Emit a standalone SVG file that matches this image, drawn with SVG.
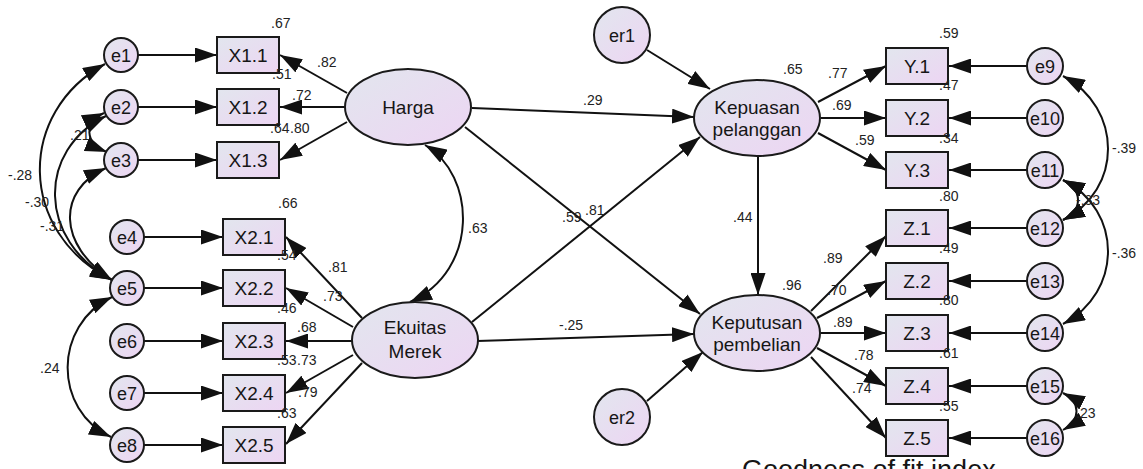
<svg xmlns="http://www.w3.org/2000/svg" width="1143" height="469" viewBox="0 0 1143 469">
<defs>
<linearGradient id="g" x1="0" y1="0" x2="1" y2="1">
<stop offset="0" stop-color="#e2e6ee"/>
<stop offset="1" stop-color="#edd5f3"/>
</linearGradient>
<marker id="a" viewBox="0 0 22 15" refX="22" refY="7.5" markerWidth="22" markerHeight="15" markerUnits="userSpaceOnUse" orient="auto-start-reverse">
<path d="M0,0 L22,7.5 L0,15 z" fill="#111"/>
</marker>
<style>
.n{fill:url(#g);stroke:#1a1a1a;stroke-width:2}
text{font-family:'Liberation Sans',Arial,sans-serif;fill:#161616}
.t{font-size:19px;text-anchor:middle}
.te{font-size:18px;text-anchor:middle}
.l{font-size:14px;fill:#222}
.c path,.c line{stroke:#111;stroke-width:2;fill:none}
.s{marker-end:url(#a)}
.d{marker-start:url(#a);marker-end:url(#a)}
</style>
</defs>
<rect width="1143" height="469" fill="#fff"/>

<g class="c" id="connectors">
<line class="s" x1="138" y1="55" x2="217" y2="55"/>
<line class="s" x1="138" y1="107" x2="217" y2="107"/>
<line class="s" x1="138" y1="160" x2="217" y2="160"/>
<line class="s" x1="144" y1="237" x2="223" y2="237"/>
<line class="s" x1="144" y1="288" x2="223" y2="288"/>
<line class="s" x1="144" y1="341" x2="223" y2="341"/>
<line class="s" x1="144" y1="393" x2="223" y2="393"/>
<line class="s" x1="144" y1="445" x2="223" y2="445"/>
<line class="s" x1="347" y1="93" x2="280" y2="55"/>
<line class="s" x1="345" y1="107" x2="280" y2="107"/>
<line class="s" x1="347" y1="122" x2="280" y2="160"/>
<line class="s" x1="362" y1="318" x2="286" y2="237"/>
<line class="s" x1="353" y1="327" x2="286" y2="288"/>
<line class="s" x1="352" y1="341" x2="286" y2="341"/>
<line class="s" x1="353" y1="355" x2="286" y2="393"/>
<line class="s" x1="362" y1="363" x2="286" y2="444"/>
<line class="s" x1="472" y1="108" x2="694" y2="117"/>
<line class="s" x1="465" y1="127" x2="700" y2="314"/>
<line class="s" x1="472" y1="322" x2="700" y2="137"/>
<line class="s" x1="477" y1="341" x2="694" y2="334"/>
<line class="s" x1="647" y1="50" x2="710" y2="89"/>
<line class="s" x1="647" y1="401" x2="703" y2="352"/>
<line class="s" x1="758" y1="157" x2="758" y2="295"/>
<line class="s" x1="818" y1="102" x2="886" y2="66"/>
<line class="s" x1="821" y1="118" x2="886" y2="118"/>
<line class="s" x1="818" y1="133" x2="886" y2="170"/>
<line class="s" x1="811" y1="311" x2="886" y2="236"/>
<line class="s" x1="817" y1="318" x2="886" y2="281"/>
<line class="s" x1="821" y1="333" x2="886" y2="333"/>
<line class="s" x1="817" y1="348" x2="886" y2="386"/>
<line class="s" x1="811" y1="357" x2="886" y2="438"/>
<line class="s" x1="1027" y1="66" x2="949" y2="66"/>
<line class="s" x1="1027" y1="118" x2="949" y2="118"/>
<line class="s" x1="1027" y1="170" x2="949" y2="170"/>
<line class="s" x1="1027" y1="228" x2="949" y2="228"/>
<line class="s" x1="1027" y1="281" x2="949" y2="281"/>
<line class="s" x1="1027" y1="333" x2="949" y2="333"/>
<line class="s" x1="1027" y1="386" x2="949" y2="386"/>
<line class="s" x1="1027" y1="438" x2="949" y2="438"/>
<path class="d" d="M105,64 C17,112 17,232 112,280"/>
<path class="d" d="M106,116 C37,150 37,240 112,280"/>
<path class="d" d="M106,168 C57,190 57,245 112,280"/>
<path class="d" d="M104,113 C84,122 84,143 107,152"/>
<path class="d" d="M112,297 C53,325 53,410 111,437"/>
<path class="d" d="M425,145 C476,175 480,270 410,302"/>
<path class="d" d="M1063,76 C1123,108 1123,190 1063,220"/>
<path class="d" d="M1063,180 C1123,210 1123,292 1063,324"/>
<path class="d" d="M1063,180 C1083,190 1083,210 1063,220"/>
<path class="d" d="M1063,393 C1081,402 1081,420 1063,430"/>
</g>

<g id="e1"><circle class="n" cx="121" cy="55" r="17"/><text class="te" x="121" y="61.5">e1</text></g>
<g id="e2"><circle class="n" cx="121" cy="107" r="17"/><text class="te" x="121" y="113.5">e2</text></g>
<g id="e3"><circle class="n" cx="121" cy="160" r="17"/><text class="te" x="121" y="166.5">e3</text></g>
<g id="e4"><circle class="n" cx="127" cy="237" r="17"/><text class="te" x="127" y="243.5">e4</text></g>
<g id="e5"><circle class="n" cx="127" cy="288" r="17"/><text class="te" x="127" y="294.5">e5</text></g>
<g id="e6"><circle class="n" cx="127" cy="341" r="17"/><text class="te" x="127" y="347.5">e6</text></g>
<g id="e7"><circle class="n" cx="127" cy="393" r="17"/><text class="te" x="127" y="399.5">e7</text></g>
<g id="e8"><circle class="n" cx="127" cy="445" r="17"/><text class="te" x="127" y="451.5">e8</text></g>

<g id="X1.1"><rect class="n" x="217" y="37" width="62" height="36"/><text class="t" x="248" y="62">X1.1</text></g>
<g id="X1.2"><rect class="n" x="217" y="89" width="62" height="36"/><text class="t" x="248" y="114">X1.2</text></g>
<g id="X1.3"><rect class="n" x="217" y="142" width="62" height="36"/><text class="t" x="248" y="167">X1.3</text></g>
<g id="X2.1"><rect class="n" x="223" y="219" width="62" height="36"/><text class="t" x="254" y="244">X2.1</text></g>
<g id="X2.2"><rect class="n" x="223" y="270" width="62" height="36"/><text class="t" x="254" y="295">X2.2</text></g>
<g id="X2.3"><rect class="n" x="223" y="323" width="62" height="36"/><text class="t" x="254" y="348">X2.3</text></g>
<g id="X2.4"><rect class="n" x="223" y="375" width="62" height="36"/><text class="t" x="254" y="400">X2.4</text></g>
<g id="X2.5"><rect class="n" x="223" y="427" width="62" height="36"/><text class="t" x="254" y="452">X2.5</text></g>

<g id="Harga"><ellipse class="n" cx="408" cy="107" rx="63" ry="38"/><text class="t" x="408" y="114">Harga</text></g>
<g id="EkuitasMerek"><ellipse class="n" cx="415" cy="340" rx="63" ry="38"/><text class="t" x="415" y="334">Ekuitas</text><text class="t" x="415" y="358">Merek</text></g>
<g id="er1"><circle class="n" cx="622" cy="35" r="28"/><text class="te" x="622" y="41.5">er1</text></g>
<g id="er2"><circle class="n" cx="622" cy="417" r="28"/><text class="te" x="622" y="423.5">er2</text></g>
<g id="Kepuasan"><ellipse class="n" cx="757" cy="118" rx="63" ry="38"/><text class="t" x="757" y="114">Kepuasan</text><text class="t" x="757" y="136">pelanggan</text></g>
<g id="Keputusan"><ellipse class="n" cx="757" cy="333" rx="63" ry="38"/><text class="t" x="757" y="329">Keputusan</text><text class="t" x="757" y="351">pembelian</text></g>

<g id="Y.1"><rect class="n" x="886" y="48" width="62" height="36"/><text class="t" x="917" y="73">Y.1</text></g>
<g id="Y.2"><rect class="n" x="886" y="100" width="62" height="36"/><text class="t" x="917" y="125">Y.2</text></g>
<g id="Y.3"><rect class="n" x="886" y="152" width="62" height="36"/><text class="t" x="917" y="177">Y.3</text></g>
<g id="Z.1"><rect class="n" x="886" y="210" width="62" height="36"/><text class="t" x="917" y="235">Z.1</text></g>
<g id="Z.2"><rect class="n" x="886" y="263" width="62" height="36"/><text class="t" x="917" y="288">Z.2</text></g>
<g id="Z.3"><rect class="n" x="886" y="315" width="62" height="36"/><text class="t" x="917" y="340">Z.3</text></g>
<g id="Z.4"><rect class="n" x="886" y="368" width="62" height="36"/><text class="t" x="917" y="393">Z.4</text></g>
<g id="Z.5"><rect class="n" x="886" y="420" width="62" height="36"/><text class="t" x="917" y="445">Z.5</text></g>

<g id="e9"><circle class="n" cx="1045" cy="66" r="18"/><text class="te" x="1045" y="72.5">e9</text></g>
<g id="e10"><circle class="n" cx="1045" cy="118" r="18"/><text class="te" x="1045" y="124.5">e10</text></g>
<g id="e11"><circle class="n" cx="1045" cy="170" r="18"/><text class="te" x="1045" y="176.5">e11</text></g>
<g id="e12"><circle class="n" cx="1045" cy="228" r="18"/><text class="te" x="1045" y="234.5">e12</text></g>
<g id="e13"><circle class="n" cx="1045" cy="281" r="18"/><text class="te" x="1045" y="287.5">e13</text></g>
<g id="e14"><circle class="n" cx="1045" cy="333" r="18"/><text class="te" x="1045" y="339.5">e14</text></g>
<g id="e15"><circle class="n" cx="1045" cy="386" r="18"/><text class="te" x="1045" y="392.5">e15</text></g>
<g id="e16"><circle class="n" cx="1045" cy="438" r="18"/><text class="te" x="1045" y="444.5">e16</text></g>

<g id="labels">
<text class="l" x="271" y="28">.67</text>
<text class="l" x="317" y="67">.82</text>
<text class="l" x="272" y="79">.51</text>
<text class="l" x="292" y="100">.72</text>
<text class="l" x="270" y="133">.64</text>
<text class="l" x="290" y="133">.80</text>
<text class="l" x="278" y="208">.66</text>
<text class="l" x="8" y="180">-.28</text>
<text class="l" x="25" y="207">-.30</text>
<text class="l" x="40" y="231">-.31</text>
<text class="l" x="70" y="140">.21</text>
<text class="l" x="277" y="260">.54</text>
<text class="l" x="328" y="272">.81</text>
<text class="l" x="323" y="301">.73</text>
<text class="l" x="277" y="313">.46</text>
<text class="l" x="297" y="332">.68</text>
<text class="l" x="277" y="365">.53</text>
<text class="l" x="297" y="365">.73</text>
<text class="l" x="298" y="397">.79</text>
<text class="l" x="277" y="418">.63</text>
<text class="l" x="40" y="373">.24</text>
<text class="l" x="583" y="105">.29</text>
<text class="l" x="468" y="233">.63</text>
<text class="l" x="562" y="222">.59</text>
<text class="l" x="585" y="215">.81</text>
<text class="l" x="559" y="330">-.25</text>
<text class="l" x="939" y="38">.59</text>
<text class="l" x="783" y="74">.65</text>
<text class="l" x="828" y="78">.77</text>
<text class="l" x="939" y="90">.47</text>
<text class="l" x="832" y="110">.69</text>
<text class="l" x="855" y="145">.59</text>
<text class="l" x="939" y="143">.34</text>
<text class="l" x="939" y="201">.80</text>
<text class="l" x="1112" y="153">-.39</text>
<text class="l" x="733" y="222">.44</text>
<text class="l" x="1076" y="205">-.33</text>
<text class="l" x="939" y="253">.49</text>
<text class="l" x="1112" y="258">-.36</text>
<text class="l" x="823" y="263">.89</text>
<text class="l" x="782" y="290">.96</text>
<text class="l" x="827" y="295">.70</text>
<text class="l" x="939" y="305">.80</text>
<text class="l" x="833" y="327">.89</text>
<text class="l" x="854" y="360">.78</text>
<text class="l" x="939" y="358">.61</text>
<text class="l" x="852" y="393">.74</text>
<text class="l" x="939" y="411">.55</text>
<text class="l" x="1076" y="418">.23</text>
</g>
<text x="742" y="479" style="font-size:27px">Goodness of fit index</text>
</svg>
